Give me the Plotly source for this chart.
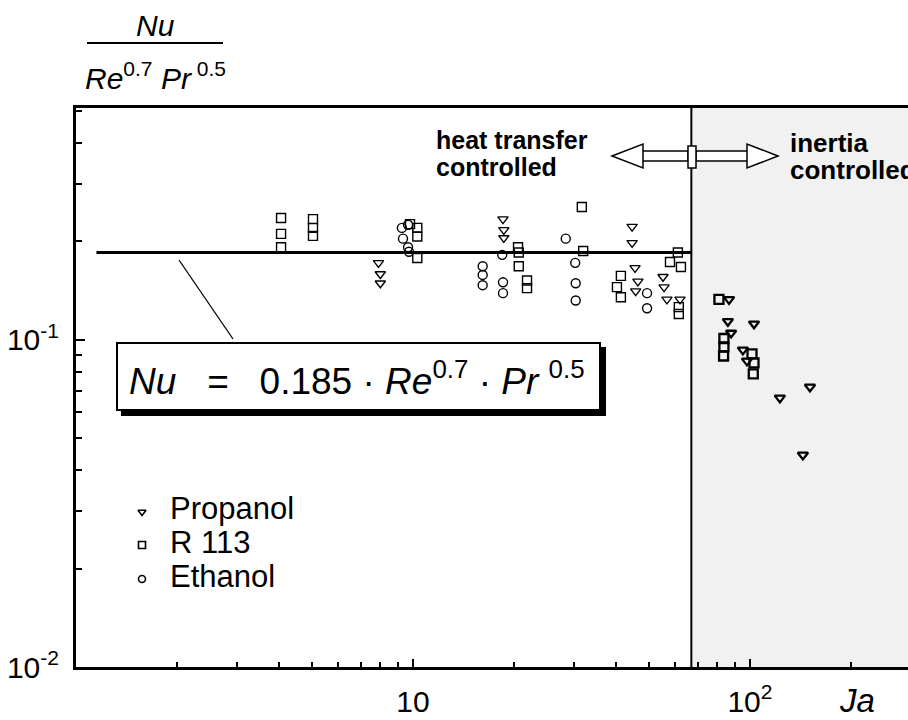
import plotly.graph_objects as go

FONT = "Liberation Sans, Arial, Helvetica, sans-serif"

# ---- measured data: Ja vs. Nu / (Re^0.7 Pr^0.5) ----
propanol_ja = [7.9, 8.0, 8.0, 18.5, 18.6, 18.6, 44.7, 44.7, 45.6, 46.5, 45.8,
               55.2, 55.6, 56.7, 62.0, 86.7, 86.0, 87.9, 102.8, 95.3, 98.0,
               122.7, 150.7, 143.6]
propanol_nu = [0.172, 0.159, 0.149, 0.234, 0.217, 0.205, 0.222, 0.198, 0.166,
               0.151, 0.141, 0.156, 0.145, 0.133, 0.133, 0.133, 0.114, 0.105,
               0.112, 0.0932, 0.0863, 0.0665, 0.0718, 0.0445]

r113_ja = [4.06, 4.06, 4.06, 5.05, 5.05, 5.05, 9.8, 10.3, 10.3, 10.3, 20.5,
           20.6, 20.6, 21.8, 21.8, 31.7, 32.0, 41.4, 40.3, 41.4, 61.1, 57.9,
           62.4, 61.5, 61.5, 80.9, 83.7, 83.7, 83.5, 101.4, 102.8, 102.3]
r113_nu = [0.236, 0.211, 0.192, 0.234, 0.220, 0.208, 0.226, 0.220, 0.207,
           0.178, 0.192, 0.185, 0.168, 0.152, 0.144, 0.255, 0.187, 0.157,
           0.145, 0.135, 0.185, 0.173, 0.167, 0.126, 0.120, 0.133, 0.101,
           0.0952, 0.0893, 0.0906, 0.0851, 0.0787]

ethanol_ja = [9.27, 9.34, 9.67, 9.67, 9.73, 16.1, 16.1, 16.1, 18.4, 18.5, 18.5,
              28.4, 30.3, 30.4, 30.4, 49.5, 49.5]
ethanol_nu = [0.220, 0.204, 0.225, 0.192, 0.186, 0.168, 0.158, 0.147, 0.182,
              0.150, 0.139, 0.204, 0.172, 0.149, 0.132, 0.139, 0.125]

# correlation Nu = C * Re^0.7 * Pr^0.5, valid up to the transition Ja
fit_c = 0.185
fit_ja = [1.15, 67.0]
ja_transition = 67.0

# axis decades (log10)
x_range = [0.0, 2.469]
y_range = [-2.0, -0.291]

x_major = [10, 100]
x_major_text = ["10", "10<sup>2</sup>"]
x_minor = [2, 3, 4, 5, 6, 7, 8, 9, 20, 30, 40, 50, 60, 70, 80, 90, 200]
y_major = [0.01, 0.1]
y_major_text = ["10<sup>-2</sup>", "10<sup>-1</sup>"]
y_minor = [0.02, 0.03, 0.04, 0.05, 0.06, 0.07, 0.08, 0.09, 0.2, 0.3, 0.4, 0.5]

series = [
    ("Propanol", propanol_ja, propanol_nu, "triangle-down-open"),
    ("R 113", r113_ja, r113_nu, "square-open"),
    ("Ethanol", ethanol_ja, ethanol_nu, "circle-open"),
]

# ---- page geometry (pixels) ----
W, H = 908, 720
L, T, B = 76, 108, 667


def fx(p):
    return (p - L) / (W - L)


def fy(p):
    return (B - p) / (B - T)


fig = go.Figure()

for name, xs, ys, sym in series:
    # points in the inertia-controlled region are printed heavier
    widths = [2.3 if x > ja_transition else 1.4 for x in xs]
    fig.add_trace(go.Scatter(
        x=xs, y=ys, mode="markers", name=name, showlegend=False,
        marker=dict(symbol=sym, size=9, color="black",
                    line=dict(color="black", width=widths)),
    ))

fig.add_trace(go.Scatter(
    x=fit_ja, y=[fit_c, fit_c], mode="lines", showlegend=False,
    line=dict(color="black", width=3),
))

# key entries on an auxiliary 0..1 overlay
key_rows = [512, 545, 579]
for (name, _, _, sym), row in zip(series, key_rows):
    fig.add_trace(go.Scatter(
        x=[fx(142)], y=[fy(row)], mode="markers", showlegend=False,
        xaxis="x2", yaxis="y2",
        marker=dict(symbol=sym, size=7, color="black",
                    line=dict(color="black", width=1.6)),
    ))

shapes = [
    # inertia-controlled zone
    dict(type="rect", xref="x", yref="paper", x0=ja_transition,
         x1=10 ** x_range[1], y0=0, y1=1, fillcolor="#f1f1f1",
         line=dict(width=0), layer="below"),
    dict(type="line", xref="x", yref="paper", x0=ja_transition,
         x1=ja_transition, y0=0, y1=1, line=dict(color="black", width=2)),
    # leader from the fit line to the equation box
    dict(type="line", xref="paper", yref="paper", x0=fx(179), y0=fy(260),
         x1=fx(233), y1=fy(339), line=dict(color="black", width=1.3)),
    # equation box with drop shadow
    dict(type="rect", xref="paper", yref="paper", x0=fx(121), y0=fy(416),
         x1=fx(606), y1=fy(347), fillcolor="black", line=dict(width=0)),
    dict(type="rect", xref="paper", yref="paper", x0=fx(117), y0=fy(410),
         x1=fx(600), y1=fy(343), fillcolor="white",
         line=dict(color="black", width=2)),
    # fraction bar of the y-axis title
    dict(type="line", xref="paper", yref="paper", x0=fx(87), y0=fy(43),
         x1=fx(223), y1=fy(43), line=dict(color="black", width=2)),
]

# double arrow across the transition
arrow_line = dict(color="black", width=1.5)
shapes += [
    dict(type="rect", xref="paper", yref="paper", x0=fx(641), x1=fx(688),
         y0=fy(161), y1=fy(151), fillcolor="white", line=arrow_line),
    dict(type="rect", xref="paper", yref="paper", x0=fx(696), x1=fx(749),
         y0=fy(161), y1=fy(151), fillcolor="white", line=arrow_line),
    dict(type="path", xref="paper", yref="paper",
         path=f"M {fx(612)},{fy(156)} L {fx(643)},{fy(144)} L {fx(643)},{fy(168)} Z",
         fillcolor="white", line=arrow_line),
    dict(type="path", xref="paper", yref="paper",
         path=f"M {fx(778)},{fy(156)} L {fx(747)},{fy(144)} L {fx(747)},{fy(168)} Z",
         fillcolor="white", line=arrow_line),
    dict(type="rect", xref="paper", yref="paper", x0=fx(688), x1=fx(696),
         y0=fy(168), y1=fy(146), fillcolor="white", line=arrow_line),
]


def note(text, x, y, size, xanchor="center"):
    return dict(text=text, x=fx(x), y=fy(y), xref="paper", yref="paper",
                xanchor=xanchor, yanchor="middle", showarrow=False,
                font=dict(family=FONT, size=size, color="black"))


NB = "\u00a0"
eq_text = (f"<i>Nu</i>{NB*3}={NB*3}0.185{NB}·{NB}<i>Re</i><sup>0.7</sup>"
           f"{NB}·{NB}<i>Pr</i>{NB}<sup>0.5</sup>")

annotations = [
    note("<i>Nu</i>", 155, 26, 30),
    note(f"<i>Re</i><sup>0.7</sup>{NB}<i>Pr</i><sup>{NB}0.5</sup>", 155, 76, 30),
    note(eq_text, 357, 378, 37),
    note("<b>heat transfer</b>", 434, 140, 25, xanchor="left"),
    note("<b>controlled</b>", 434, 167, 25, xanchor="left"),
    note("<b>inertia</b>", 788, 143, 26, xanchor="left"),
    note("<b>controlled</b>", 788, 170, 26, xanchor="left"),
    note("<i>Ja</i>", 857, 700, 33),
]
for (name, _, _, _), row in zip(series, [508, 542, 576]):
    annotations.append(note(name, 168, row, 31, xanchor="left"))

tick_font = dict(family=FONT, size=30, color="black")

fig.update_layout(
    width=W, height=H,
    margin=dict(l=L, r=0, t=T, b=H - B, pad=0),
    paper_bgcolor="white", plot_bgcolor="white",
    showlegend=False,
    shapes=shapes,
    annotations=annotations,
    xaxis=dict(
        type="log", range=x_range, showgrid=False, zeroline=False,
        showline=True, linecolor="black", linewidth=3, mirror=True,
        ticks="inside", ticklen=8, tickwidth=1.5, tickcolor="black",
        tickmode="array", tickvals=x_major, ticktext=x_major_text,
        tickfont=tick_font, ticklabelstandoff=6,
        minor=dict(tickmode="array", tickvals=x_minor, ticks="inside",
                   ticklen=5, tickwidth=1.5, tickcolor="black",
                   showgrid=False),
    ),
    yaxis=dict(
        type="log", range=y_range, showgrid=False, zeroline=False,
        showline=True, linecolor="black", linewidth=3, mirror=False,
        ticks="inside", ticklen=9, tickwidth=1.5, tickcolor="black",
        tickmode="array", tickvals=y_major, ticktext=y_major_text,
        tickfont=tick_font, ticklabelstandoff=8,
        minor=dict(tickmode="array", tickvals=y_minor, ticks="inside",
                   ticklen=6, tickwidth=1.5, tickcolor="black",
                   showgrid=False),
    ),
    xaxis2=dict(overlaying="x", range=[0, 1], visible=False),
    yaxis2=dict(overlaying="y", range=[0, 1], visible=False),
)

fig.write_html("out.html")
